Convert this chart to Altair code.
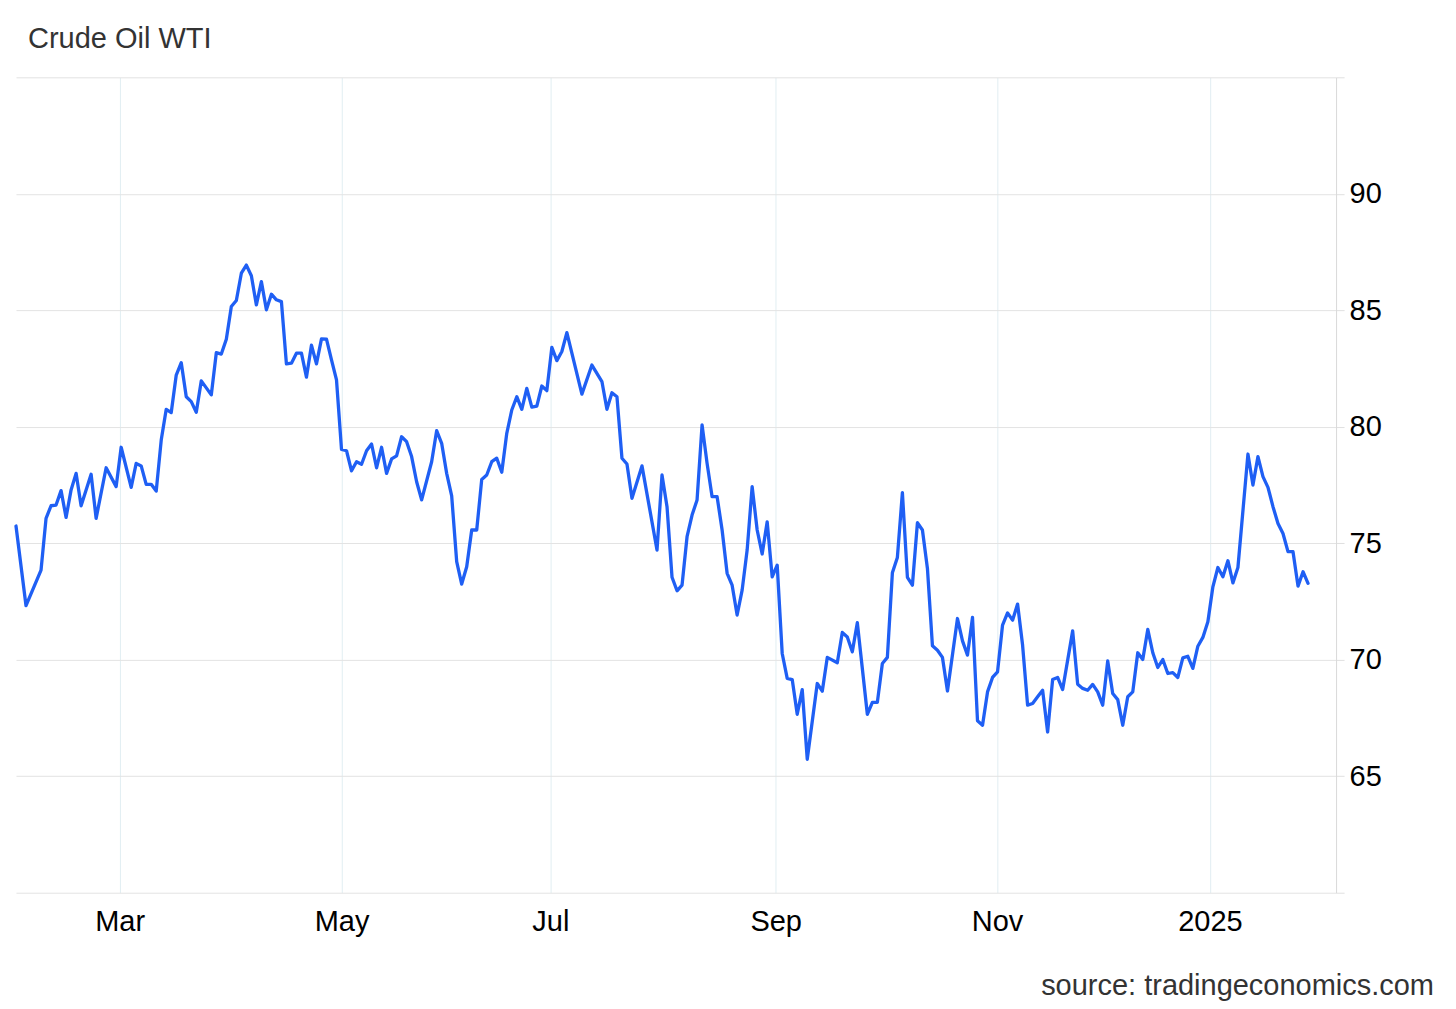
import altair as alt
import pandas as pd

# Trading-day index (ordinal x axis) and WTI price
DAY = [0, 2, 5, 6, 7, 8, 9, 10, 11, 12, 13, 15, 16, 18, 20, 21, 23, 24, 25, 26,
       27, 28, 29, 30, 31, 32, 33, 34, 35, 36, 37, 39, 40, 41, 42, 43, 44, 45, 46, 47,
       48, 49, 50, 51, 52, 53, 54, 55, 56, 57, 58, 59, 60, 61, 62, 63, 64, 65, 66, 67,
       68, 69, 70, 71, 72, 73, 74, 75, 76, 77, 78, 79, 80, 81, 83, 84, 85, 86, 87, 88,
       89, 90, 91, 92, 93, 94, 95, 96, 97, 98, 99, 100, 101, 102, 103, 104, 105, 106, 107, 108,
       109, 110, 113, 115, 117, 118, 119, 120, 121, 122, 123, 125, 128, 129, 130, 131, 132, 133, 134, 135,
       136, 137, 138, 139, 140, 141, 142, 143, 144, 145, 146, 147, 148, 149, 150, 151, 152, 153, 154, 155,
       156, 157, 158, 160, 161, 162, 164, 165, 166, 167, 168, 170, 171, 172, 173, 174, 175, 176, 177, 178,
       179, 180, 181, 182, 183, 184, 185, 186, 188, 189, 190, 191, 192, 193, 194, 195, 196, 197, 198, 199,
       200, 201, 202, 203, 204, 205, 206, 207, 208, 209, 211, 212, 213, 214, 215, 216, 217, 218, 219, 220,
       221, 222, 223, 224, 225, 226, 227, 228, 229, 230, 231, 232, 233, 234, 235, 236, 237, 238, 239, 240,
       241, 242, 243, 244, 246, 247, 248, 249, 250, 251, 252, 253, 254, 255, 256, 257, 258]
PRICE = [75.74, 72.32, 73.85, 76.07, 76.61, 76.64, 77.26, 76.11, 77.29, 78.00, 76.61, 77.96, 76.07, 78.24, 77.43, 79.12, 77.40, 78.43, 78.32, 77.53,
         77.53, 77.24, 79.43, 80.75, 80.61, 82.22, 82.75, 81.29, 81.08, 80.62, 81.97, 81.37, 83.18, 83.12, 83.76, 85.16, 85.42, 86.59, 86.94, 86.48,
         85.23, 86.23, 85.02, 85.69, 85.45, 85.37, 82.70, 82.73, 83.16, 83.16, 82.13, 83.50, 82.70, 83.77, 83.76, 82.87, 82.01, 79.03, 78.97, 78.11,
         78.50, 78.39, 78.97, 79.26, 78.24, 79.12, 78.00, 78.62, 78.75, 79.57, 79.36, 78.72, 77.64, 76.86, 78.50, 79.83, 79.29, 78.00, 77.03, 74.21,
         73.25, 73.99, 75.57, 75.57, 77.74, 77.93, 78.50, 78.65, 78.05, 79.72, 80.72, 81.29, 80.75, 81.65, 80.84, 80.89, 81.75, 81.55, 83.41, 82.84,
         83.23, 84.04, 81.40, 82.65, 81.94, 80.75, 81.46, 81.29, 78.65, 78.40, 76.93, 78.32, 74.71, 77.93, 76.57, 73.54, 72.96, 73.20, 75.28, 76.21,
         76.86, 80.08, 78.43, 77.00, 77.00, 75.57, 73.71, 73.20, 71.92, 72.99, 74.71, 77.43, 75.57, 74.54, 75.92, 73.56, 74.06, 70.27, 69.20, 69.15,
         67.66, 68.72, 65.73, 68.98, 68.65, 70.10, 69.87, 71.17, 70.98, 70.34, 71.59, 67.66, 68.17, 68.17, 69.84, 70.10, 73.73, 74.39, 77.17, 73.54,
         73.20, 75.88, 75.57, 73.92, 70.60, 70.41, 70.10, 68.66, 71.77, 70.81, 70.20, 71.82, 67.38, 67.19, 68.62, 69.24, 69.48, 71.49, 72.01, 71.70,
         72.39, 70.63, 68.05, 68.12, 68.41, 68.69, 66.90, 69.15, 69.24, 68.72, 71.24, 68.95, 68.77, 68.69, 68.94, 68.62, 68.05, 69.95, 68.55, 68.29,
         67.19, 68.41, 68.62, 70.30, 70.01, 71.30, 70.30, 69.67, 70.01, 69.41, 69.45, 69.24, 70.08, 70.15, 69.63, 70.58, 70.96, 71.63, 73.13, 73.96,
         73.56, 74.25, 73.30, 73.96, 78.83, 77.50, 78.72, 77.86, 77.40, 76.57, 75.85, 75.42, 74.64, 74.64, 73.16, 73.78, 73.28]

# Month boundaries on the trading-day axis and their labels
TICK_POS = [20.7, 65, 106.7, 151.7, 195.9, 238.4]
TICK_LABELS = ["Mar", "May", "Jul", "Sep", "Nov", "2025"]
Y_TICKS = [60, 65, 70, 75, 80, 85, 90, 95]

TITLE = "Crude Oil WTI"
SOURCE = "source: tradingeconomics.com"

FONT = "Liberation Sans"
FS = 29
W, H = 1321, 816

df = pd.DataFrame({"day": DAY, "price": PRICE})

label_expr = "".join(
    f"abs(datum.value - {p}) < 0.01 ? '{l}' : " for p, l in zip(TICK_POS, TICK_LABELS)
) + "''"

line = alt.Chart(df).mark_line(
    color="#1f5ff4", strokeWidth=3.3, strokeJoin="round", strokeCap="round"
).encode(
    x=alt.X(
        "day:Q",
        scale=alt.Scale(domain=[0, 263.6], nice=False, zero=False),
        axis=alt.Axis(
            values=TICK_POS, labelExpr=label_expr, grid=True, gridColor="#e1eef2",
            gridWidth=1, ticks=False, tickSize=0, domain=False, labelFontSize=FS,
            labelFont=FONT, labelColor="#000000", labelPadding=15, title=None,
            labelAngle=0, labelFlush=False, labelOverlap=False,
        ),
    ),
    y=alt.Y(
        "price:Q",
        scale=alt.Scale(domain=[60, 95], nice=False, zero=False),
        axis=alt.Axis(
            orient="right", values=Y_TICKS,
            labelExpr="datum.value == 60 || datum.value == 95 ? '' : datum.label",
            grid=True, gridColor="#e3e3e3", gridWidth=1, domain=True,
            domainColor="#d9d9d9", ticks=True, tickSize=8, tickColor="#e0e0e0",
            labelPadding=5, labelFontSize=FS, labelFont=FONT, labelColor="#000000",
            title=None, labelFlush=False, labelOverlap=False,
        ),
    ),
)

title = alt.Chart(pd.DataFrame({"t": [TITLE]})).mark_text(
    align="left", baseline="alphabetic", font=FONT, fontSize=FS, color="#333333"
).encode(text="t:N", x=alt.value(12), y=alt.value(-29))

source = alt.Chart(pd.DataFrame({"t": [SOURCE]})).mark_text(
    align="right", baseline="alphabetic", font=FONT, fontSize=FS, color="#333333"
).encode(text="t:N", x=alt.value(1419), y=alt.value(918))

chart = alt.layer(line, title, source).properties(
    width=W, height=H,
    autosize=alt.AutoSizeParams(type="none"),
    padding={"left": 8, "top": 69, "right": 112, "bottom": 110},
    background="#ffffff",
).configure_view(strokeWidth=0, stroke=None)

chart.save("out.html", embed_options={"renderer": "svg", "actions": False})
